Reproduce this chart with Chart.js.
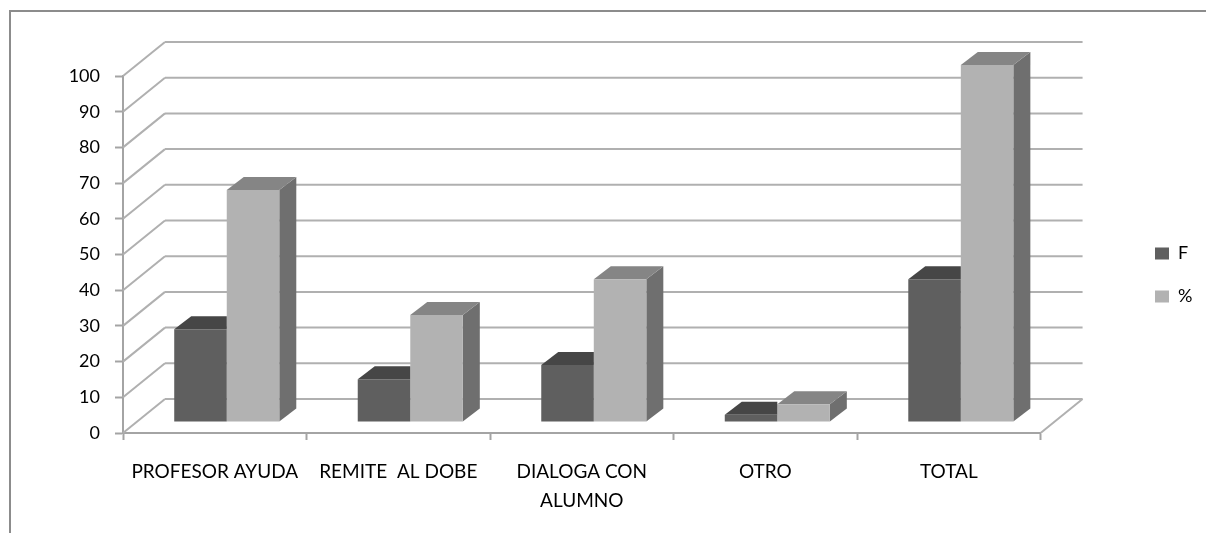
<!DOCTYPE html>
<html>
<head>
<meta charset="utf-8">
<style>
  html, body { margin: 0; background: #fff; overflow: hidden; }
  #frame { position: absolute; left: 9px; top: 10px; right: 0; bottom: 0; border-left: 2px solid #8c8c8c; border-top: 2px solid #8c8c8c; }
  #chart { position: absolute; left: 0; top: 0; }
</style>
<script src="https://cdn.jsdelivr.net/npm/chart.js@4"></script>
</head>
<body>
<div id="frame"></div>
<canvas id="chart" width="1206" height="533"></canvas>
<script>
const categories = ['PROFESOR AYUDA', 'REMITE  AL DOBE', ['DIALOGA CON', 'ALUMNO'], 'OTRO', 'TOTAL'];
const valuesF = [26, 12, 16, 2, 40];
const valuesPct = [65, 30, 40, 5, 100];

const GRID = '#b0b0b0';
const AXIS = '#a4a4a4';
const FONT = { family: 'Lato', size: 18 };
// perspectiva: fondo del gráfico respecto al plano frontal
const WALL = { dx: 42, dy: -34 };
// las barras van algo más atrás que el eje, y con su propia profundidad
const BAR_SHIFT = { dx: 12, dy: -11 };
const BAR_DEPTH = { dx: 17, dy: -13 };
const shades = [
  { top: '#464646', side: '#4b4b4b' },
  { top: '#858585', side: '#6f6f6f' },
];

function line(ctx, x1, y1, x2, y2) {
  ctx.beginPath();
  ctx.moveTo(x1, y1);
  ctx.lineTo(x2, y2);
  ctx.stroke();
}

function poly(ctx, pts, color) {
  ctx.fillStyle = color;
  ctx.beginPath();
  pts.forEach(p => ctx.lineTo(p[0], p[1]));
  ctx.closePath();
  ctx.fill();
}

const walls3d = {
  id: 'walls3d',
  afterLayout(chart) {
    // la leyenda queda pegada a la derecha, lejos del área de barras
    const lg = chart.legend;
    const w = lg.right - lg.left;
    lg.left = 1130;
    lg.right = lg.left + w;
    lg.top = 76;
    lg.bottom = 474;
  },
  beforeDatasetsDraw(chart) {
    const { ctx, chartArea: a, scales: { y } } = chart;
    ctx.save();
    ctx.strokeStyle = GRID;
    ctx.lineWidth = 2;
    y.ticks.forEach(t => {
      const py = y.getPixelForValue(t.value);
      line(ctx, a.left, py, a.left + WALL.dx, py + WALL.dy);
      line(ctx, a.left + WALL.dx, py + WALL.dy, a.right + WALL.dx, py + WALL.dy);
    });
    line(ctx, a.right, a.bottom, a.right + WALL.dx, a.bottom + WALL.dy);
    ctx.restore();
  },
  beforeDatasetDraw(chart, args) {
    const ctx = chart.ctx;
    ctx.save();
    ctx.translate(BAR_SHIFT.dx, BAR_SHIFT.dy);
    const c = shades[args.index];
    const { dx, dy } = BAR_DEPTH;
    // % se dibuja primero y F encima: la cara lateral de F queda tapada por %,
    // así que F solo lleva la tapa, cortada en el borde de la barra
    const isFront = args.index === 0;
    args.meta.data.forEach(el => {
      const l = el.x - el.width / 2, r = el.x + el.width / 2;
      if (!isFront) {
        poly(ctx, [[r, el.y], [r + dx, el.y + dy], [r + dx, el.base + dy], [r, el.base]], c.side);
      }
      const topRight = isFront ? r : r + dx;
      poly(ctx, [[l, el.y], [l + dx, el.y + dy], [topRight, el.y + dy], [r, el.y]], c.top);
    });
  },
  afterDatasetDraw(chart) {
    chart.ctx.restore();
  },
};

new Chart(document.getElementById('chart'), {
  type: 'bar',
  plugins: [walls3d],
  data: {
    labels: categories,
    datasets: [
      { label: 'F', data: valuesF, backgroundColor: '#5f5f5f', clip: false },
      { label: '%', data: valuesPct, backgroundColor: '#b2b2b2', clip: false },
    ],
  },
  options: {
    responsive: false,
    animation: false,
    layout: { padding: { left: 0, top: 76, right: 93, bottom: 0 } },
    datasets: { bar: { categoryPercentage: 0.5725, barPercentage: 1 } },
    plugins: {
      title: { display: false },
      tooltip: { enabled: false },
      legend: {
        position: 'right',
        labels: { boxWidth: 14, boxHeight: 12, padding: 25, color: '#000', font: FONT },
      },
    },
    scales: {
      x: {
        afterFit(s) { s.height = 100; },
        border: { color: AXIS, width: 2 },
        grid: { offset: true, drawOnChartArea: false, color: AXIS, tickLength: 7, tickWidth: 2 },
        ticks: {
          color: '#000',
          font: { family: 'Lato', size: 19, lineHeight: 1.5 },
          padding: 18,
          autoSkip: false,
          maxRotation: 0,
          minRotation: 0,
        },
      },
      y: {
        min: 0,
        max: 100,
        afterFit(s) { s.width = 123; },
        border: { color: AXIS, width: 2 },
        grid: { drawOnChartArea: false, color: AXIS, tickLength: 8, tickWidth: 2 },
        ticks: { stepSize: 10, color: '#000', font: FONT, padding: 15 },
      },
    },
  },
});
</script>
</body>
</html>
